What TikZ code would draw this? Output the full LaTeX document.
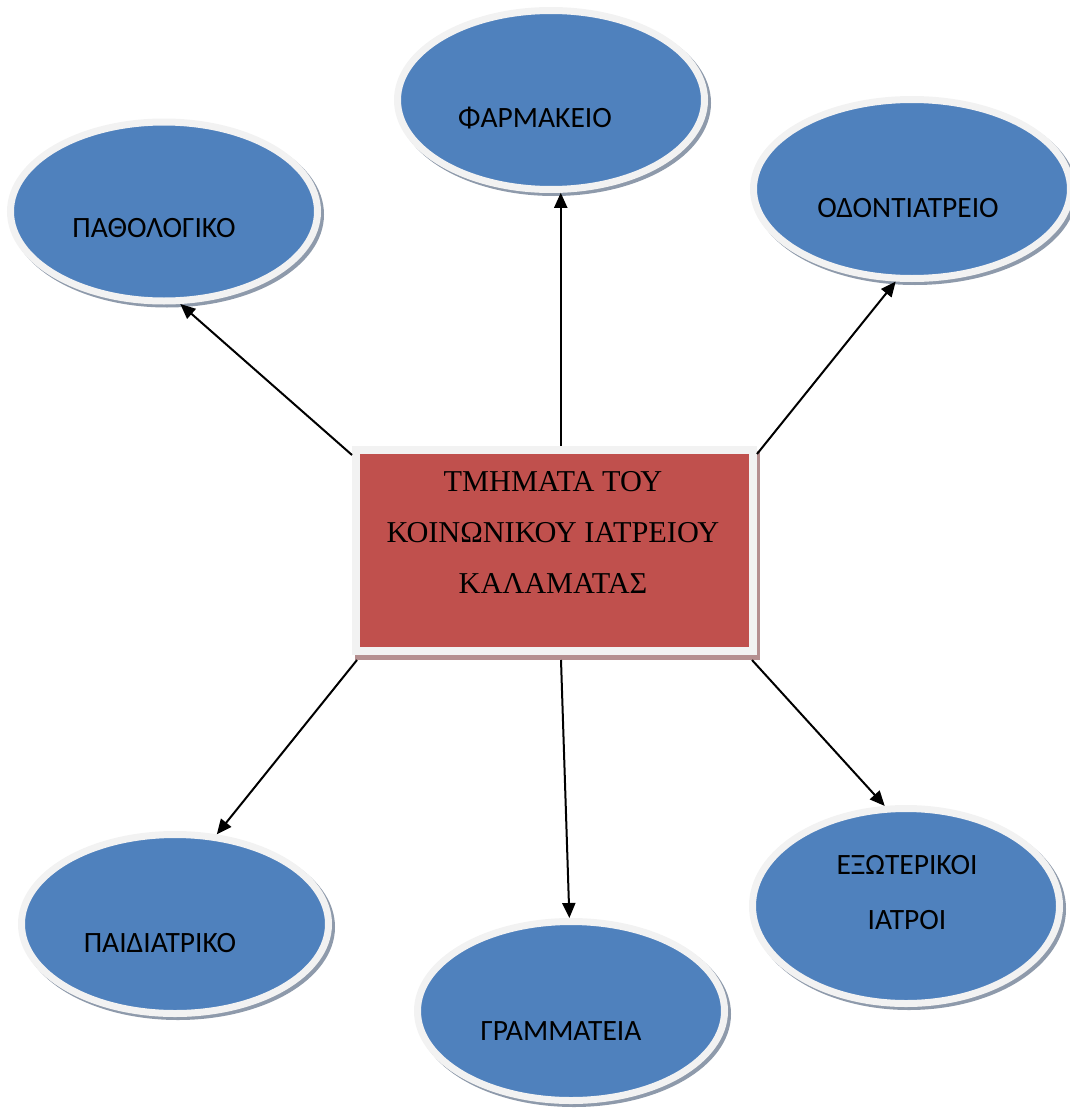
\documentclass[tikz,border=0pt]{standalone}
\usepackage{fontspec}
\setmainfont{Liberation Serif}
\newfontfamily\bubblefont{Carlito}
\usetikzlibrary{shapes.geometric,arrows.meta}
\definecolor{bubbleblue}{HTML}{4F81BD}
\definecolor{ringgray}{HTML}{F2F2F2}
\definecolor{bubbleshadow}{HTML}{8E9AAB}
\definecolor{boxred}{HTML}{C0504D}
\definecolor{boxshadow}{HTML}{B58F90}

\begin{document}
\begin{tikzpicture}[x=1pt,y=-1pt,>={Triangle[length=15pt,width=13pt]},
    bubble/.style={ellipse, fill=bubbleblue, draw=ringgray, line width=7pt,
      minimum width=307pt, minimum height=179pt, inner sep=0pt,
      preaction={draw=bubbleshadow, line width=7pt, transform canvas={shift={(3pt,-3pt)}}}},
    bubbletext/.style={font=\bubblefont\fontsize{29.5}{55}\selectfont, align=center, text=black},
    box/.style={rectangle, fill=boxred, draw=ringgray, line width=8pt,
      minimum width=397pt, minimum height=201pt, inner sep=0pt,
      preaction={draw=boxshadow, fill=boxshadow, line width=8pt, transform canvas={shift={(3pt,-5pt)}}}},
    boxtext/.style={font=\fontsize{30.3}{51}\selectfont, align=center, text=black},
    link/.style={->, line width=2pt}]

    % Page frame (pixel units of the reference)
    \useasboundingbox (0,0) rectangle (1069,1108);

    % Central box
    \node[box, label={[boxtext, xshift=-1.5pt, yshift=18pt]center:ΤΜΗΜΑΤΑ ΤΟΥ\\ΚΟΙΝΩΝΙΚΟΥ ΙΑΤΡΕΙΟΥ\\ΚΑΛΑΜΑΤΑΣ}] (main) at (554.5,550.5) {};

    % Departments
    \node[bubble, label={[bubbletext, xshift=-10pt, yshift=-16.5pt]center:ΠΑΘΟΛΟΓΙΚΟ}] (pathol) at (164,211.5) {};
    \node[bubble, label={[bubbletext, xshift=-16pt, yshift=-18pt]center:ΦΑΡΜΑΚΕΙΟ}] (pharm) at (551,100) {};
    \node[bubble, minimum width=317pt, label={[bubbletext, xshift=-4pt, yshift=-19pt]center:ΟΔΟΝΤΙΑΤΡΕΙΟ}] (odont) at (912,189) {};
    \node[bubble, label={[bubbletext, xshift=-15pt, yshift=-19pt]center:ΠΑΙΔΙΑΤΡΙΚΟ}] (paed) at (175,924) {};
    \node[bubble, label={[bubbletext, xshift=-10pt, yshift=-20pt]center:ΓΡΑΜΜΑΤΕΙΑ}] (gramm) at (571,1011) {};
    \node[bubble, minimum height=195pt, label={[bubbletext, xshift=1pt, yshift=13.5pt]center:ΕΞΩΤΕΡΙΚΟΙ\\ΙΑΤΡΟΙ}] (exo) at (906,906) {};

    % Arrows from the box
    \draw[link] ([yshift=-9pt]main.north west) -- (pathol.-80);
    \draw[link] (main.north -| pharm.-84) -- (pharm.-84);
    \draw[link] ([yshift=-8pt]main.north east) -- (odont.-100);
    \draw[link] ([xshift=5pt,yshift=-5pt]main.south west) -- (paed.65);
    \draw[link] ([xshift=6.5pt,yshift=-5pt]main.south) -- (gramm.91);
    \draw[link] ([xshift=-5pt,yshift=-5pt]main.south east) -- (exo.102);

\end{tikzpicture}
\end{document}
